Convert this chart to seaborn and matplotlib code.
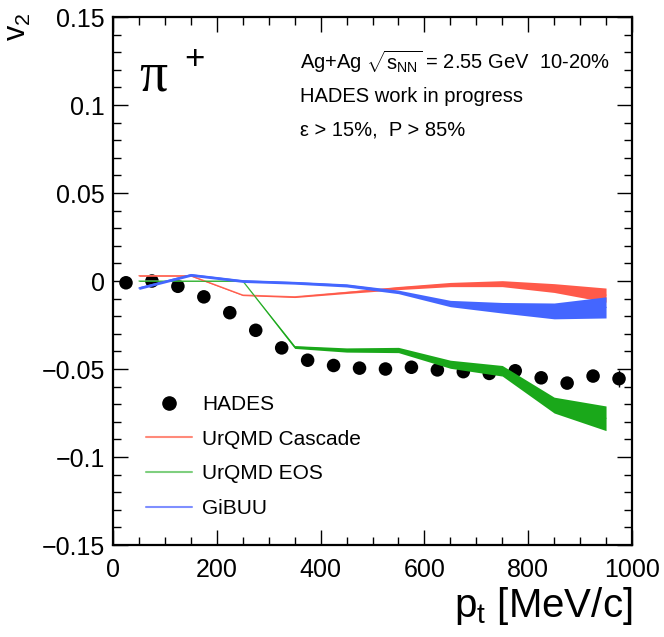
import numpy as np
import pandas as pd
import matplotlib
matplotlib.use("Agg")
import matplotlib.pyplot as plt
import seaborn as sns
from matplotlib.lines import Line2D
from matplotlib.ticker import MultipleLocator

# ---------------- data ----------------
hades_pt = [25, 75, 125, 175, 225, 275, 325, 375, 425, 475,
            525, 575, 625, 675, 725, 775, 825, 875, 925, 975]
hades_v2 = [-0.001, 0.000, -0.003, -0.009, -0.018, -0.028, -0.038, -0.045, -0.048, -0.0495,
            -0.050, -0.049, -0.0505, -0.0515, -0.0525, -0.051, -0.055, -0.058, -0.054, -0.0555]
hades_err = [0.002, 0.002, 0.002, 0.002, 0.002, 0.002, 0.002, 0.002, 0.002, 0.002,
             0.002, 0.002, 0.002, 0.002, 0.002, 0.002, 0.003, 0.003, 0.003, 0.005]

model_pt = [50, 150, 250, 350, 450, 550, 650, 750, 850, 950]
cascade_mid = [0.003, 0.003, -0.008, -0.009, -0.0065, -0.004, -0.002, -0.0015, -0.004, -0.008]
cascade_half = [0.0003, 0.0003, 0.0003, 0.0004, 0.0006, 0.0009, 0.0012, 0.0017, 0.0025, 0.004]
eos_mid = [0.0, 0.0, 0.0, -0.0375, -0.0392, -0.0392, -0.0473, -0.051, -0.0705, -0.078]
eos_half = [0.0002, 0.0002, 0.0002, 0.0008, 0.0012, 0.0015, 0.0023, 0.003, 0.0045, 0.007]
gibuu_mid = [-0.004, 0.0035, 0.0, -0.001, -0.0025, -0.0062, -0.0128, -0.0152, -0.017, -0.015]
gibuu_half = [0.0008, 0.0008, 0.0008, 0.0008, 0.0009, 0.0010, 0.0018, 0.003, 0.0045, 0.006]

yticks = [0.15, 0.1, 0.05, 0, -0.05, -0.1, -0.15]
ytick_labels = ["0.15", "0.1", "0.05", "0", "\u22120.05", "\u22120.1", "\u22120.15"]
xticks = [0, 200, 400, 600, 800, 1000]
xtick_labels = ["0", "200", "400", "600", "800", "1000"]

legend_labels = ["HADES", "UrQMD Cascade", "UrQMD EOS", "GiBUU"]

# ---------------- style ----------------
sns.set_theme(style="ticks")
plt.rcParams['font.family'] = ['Liberation Sans', 'DejaVu Sans']
plt.rcParams['mathtext.fontset'] = 'custom'
plt.rcParams['mathtext.rm'] = 'Liberation Sans'
plt.rcParams['mathtext.it'] = 'Liberation Sans:italic'
plt.rcParams['mathtext.bf'] = 'Liberation Sans:bold'
plt.rcParams['text.color'] = 'black'
plt.rcParams['axes.labelcolor'] = 'black'
plt.rcParams['xtick.color'] = 'black'
plt.rcParams['ytick.color'] = 'black'

fig = plt.figure(figsize=(6.64, 6.37), dpi=100)
ax = fig.add_axes([0.1702, 0.1444, 0.7816, 0.8289])

hades = pd.DataFrame({"pt": hades_pt, "v2": hades_v2, "err": hades_err})
ax.errorbar(hades["pt"], hades["v2"], yerr=hades["err"], fmt='none',
            ecolor='black', elinewidth=1, capsize=0, zorder=2)
sns.scatterplot(data=hades, x="pt", y="v2", ax=ax, color="black", s=95,
                edgecolor="none", linewidth=0, zorder=3, legend=False)

models = [
    (cascade_mid, cascade_half, "#ff5a4a", "#ff7a6a"),
    (eos_mid, eos_half, "#1aa81a", "#6cc86c"),
    (gibuu_mid, gibuu_half, "#4466ff", "#4466ff"),
]
for mid, half, col, lcol in models:
    mid = np.array(mid)
    half = np.array(half)
    sns.lineplot(x=model_pt, y=mid, ax=ax, color=lcol, lw=1.0, zorder=3.5, legend=False)
    ax.fill_between(model_pt, mid - half, mid + half, color=col, lw=0, zorder=4)

ax.set_xlim(0, 1000)
ax.set_ylim(-0.15, 0.15)
ax.set_xticks(xticks)
ax.set_xticklabels(xtick_labels)
ax.set_yticks(yticks)
ax.set_yticklabels(ytick_labels)
ax.xaxis.set_minor_locator(MultipleLocator(50))
ax.yaxis.set_minor_locator(MultipleLocator(0.01))
ax.tick_params(which='both', direction='in', top=True, right=True, colors='black',
               labelsize=18, width=1)
ax.tick_params(which='major', length=11)
ax.tick_params(which='minor', length=5.5)
ax.tick_params(axis='x', pad=9)
ax.tick_params(axis='y', pad=6)
for sp in ax.spines.values():
    sp.set_linewidth(1.6)
    sp.set_color('black')
ax.set_xlabel("")
ax.set_ylabel("")

fig.text(0.9518, 0.048, r"p$_{\mathrm{t}}$ [MeV/c]", fontsize=29, ha='right', va='center')
fig.text(0.027, 0.958, r"v$_{2}$", fontsize=22, rotation=90, ha='center', va='center')

fig.text(0.210, 0.880, "\u03c0", fontsize=40, family=['Liberation Serif'], ha='left', va='center')
fig.text(0.278, 0.907, "+", fontsize=25, ha='left', va='center')

fig.text(0.452, 0.903, r"Ag+Ag $\sqrt{\mathrm{s}_{\mathrm{NN}}}$ = 2.55 GeV  10-20%", fontsize=14.5,
         ha='left', va='center')
fig.text(0.452, 0.848, "HADES work in progress", fontsize=14.5, ha='left', va='center')
fig.text(0.452, 0.796, "\u03b5 > 15%,  P > 85%", fontsize=14.5, ha='left', va='center')

handles = [
    Line2D([], [], marker='o', color='black', linestyle='none', markersize=9.5),
    Line2D([], [], color='#ff8a7a', lw=1.5),
    Line2D([], [], color='#7fcf7f', lw=1.5),
    Line2D([], [], color='#7f8fff', lw=1.5),
]
ax.legend(handles, legend_labels, loc='upper left', bbox_to_anchor=(0.0636, 0.284),
          frameon=False, fontsize=15, borderpad=0, borderaxespad=0,
          handlelength=2.2, handletextpad=0.5, labelspacing=0.75)

fig.savefig("out.png", dpi=100)
